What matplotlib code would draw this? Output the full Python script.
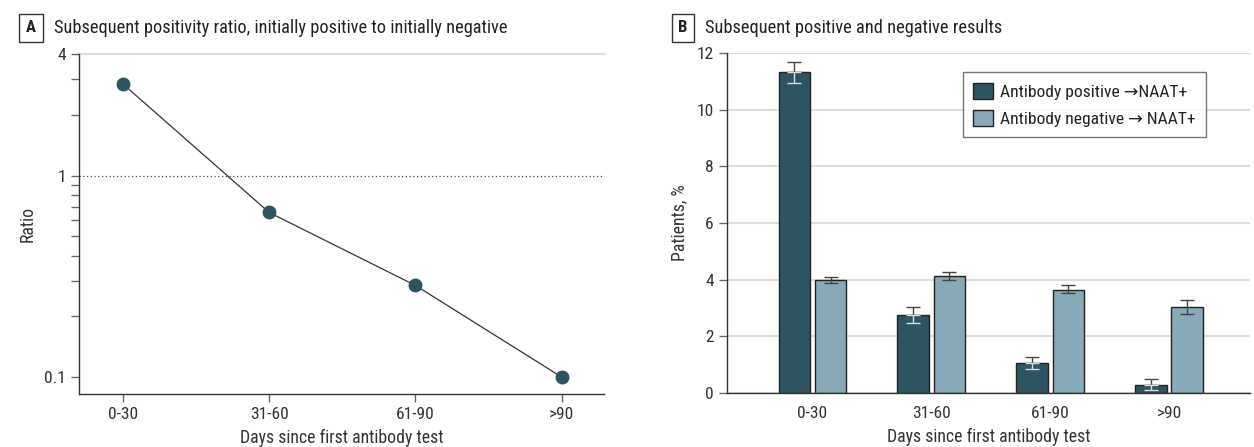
import matplotlib
matplotlib.use("Agg")
from matplotlib import pyplot as plt
from matplotlib import font_manager as fm
from matplotlib.ticker import FixedLocator, NullFormatter
import numpy as np

# look for a narrow sans, the original uses a condensed face
narrow = None
stretch = "normal"
names = {f.name for f in fm.fontManager.ttflist}
for n in ["Liberation Sans Narrow", "Roboto Condensed", "Open Sans Condensed",
          "DejaVu Sans Condensed", "Noto Sans Condensed"]:
    if n in names:
        narrow = n
        break
if narrow is None:
    for f in fm.fontManager.ttflist:
        if str(f.stretch) in ("condensed", "semi-condensed", "500", "semi-expanded") \
                or "ondensed" in f.fname or "Narrow" in f.fname:
            narrow = f.name
            stretch = "condensed"
            break
if narrow is None:
    narrow = "DejaVu Sans"
plt.rcParams['font.family'] = [narrow, 'DejaVu Sans']
plt.rcParams['font.stretch'] = stretch

categories = ["0-30", "31-60", "61-90", ">90"]

# panel A: ratio, initially positive to initially negative
ratio = [2.85, 0.656, 0.285, 0.1]

# panel B: patients, %
pos_pct = [11.32, 2.76, 1.06, 0.30]
pos_lo = [10.95, 2.47, 0.85, 0.12]
pos_hi = [11.70, 3.04, 1.27, 0.49]
neg_pct = [3.99, 4.13, 3.65, 3.04]
neg_lo = [3.88, 4.00, 3.52, 2.78]
neg_hi = [4.09, 4.26, 3.80, 3.30]

dark = "#2e5462"
light = "#87a9b8"
text_col = "#333333"
tick_col = "#666666"
grid_col = "#dddddd"
fs = 12.8

fig = plt.figure(figsize=(12.54, 4.47), dpi=100)


def style_axes(ax):
    for s in ["top", "right"]:
        ax.spines[s].set_visible(False)
    for s in ["left", "bottom"]:
        ax.spines[s].set_color("#333333")
        ax.spines[s].set_linewidth(1.0)
    ax.tick_params(which="both", color=tick_col, labelcolor=text_col,
                   labelsize=12.6, length=6, width=1)


def panel_label(x_box, x_text, letter, title):
    fig.text(x_box, 0.938, letter, fontsize=12, fontweight="bold",
             color="#222222", ha="center", va="center",
             bbox=dict(boxstyle="square,pad=0.4", fc="white",
                       ec="#333333", lw=1))
    fig.text(x_text, 0.938, title, fontsize=13.2, color="#222222",
             ha="left", va="center")


# ---- panel A ----
ax1 = fig.add_axes([0.063, 0.1186, 0.4187, 0.760])
x = np.arange(len(categories))
ax1.set_yscale("log")
ax1.set_ylim(0.0824, 4)
ax1.set_xlim(-0.30, 3.29)
ax1.axhline(4, color=grid_col, lw=1.5, zorder=0, clip_on=False)
ax1.axhline(1, color="#444444", lw=0.9, ls=(0, (1, 2)), zorder=1)
ax1.plot(x, ratio, color="#333333", lw=0.9, marker="o", markersize=9,
         markerfacecolor=dark, markeredgecolor=dark, zorder=3)
ax1.yaxis.set_major_locator(FixedLocator([0.1, 1, 4]))
ax1.set_yticklabels(["0.1", "1", "4"])
ax1.yaxis.set_minor_locator(FixedLocator([0.2, 0.3, 0.4, 0.5, 0.6, 0.7,
                                          0.8, 0.9, 2, 3]))
ax1.yaxis.set_minor_formatter(NullFormatter())
ax1.set_xticks(x)
ax1.set_xticklabels(categories)
style_axes(ax1)
ax1.set_ylabel("Ratio", fontsize=fs, color=text_col)
ax1.yaxis.set_label_coords(-0.08, 0.5)
ax1.set_xlabel("Days since first antibody test", fontsize=fs,
               color=text_col, labelpad=5)

# ---- panel B ----
ax2 = fig.add_axes([0.5797, 0.1208, 0.417, 0.7606])
w = 0.265
gap = 0.04
xp = x - (w + gap) / 2
xn = x + (w + gap) / 2
ax2.set_axisbelow(True)
ax2.yaxis.grid(True, color=grid_col, lw=1.5)
ax2.bar(xp, pos_pct, width=w, color=dark, edgecolor="#222222", lw=1,
        label="Antibody positive \u2192NAAT+", zorder=2)
ax2.bar(xn, neg_pct, width=w, color=light, edgecolor="#222222", lw=1,
        label="Antibody negative \u2192 NAAT+", zorder=2)

pos_pct = np.array(pos_pct)
neg_pct = np.array(neg_pct)
up = np.array(pos_hi) - pos_pct
down = pos_pct - np.array(pos_lo)
z = np.zeros(len(categories))
ax2.errorbar(xp, pos_pct, yerr=[z, up], fmt="none", ecolor="#444444",
             elinewidth=1, capsize=5, capthick=1, zorder=3)
ax2.errorbar(xp, pos_pct, yerr=[down, z], fmt="none", ecolor="#dddddd",
             elinewidth=1, capsize=5, capthick=1, zorder=3)
ax2.errorbar(xn, neg_pct, yerr=[neg_pct - np.array(neg_lo),
                                np.array(neg_hi) - neg_pct],
             fmt="none", ecolor="#444444", elinewidth=1, capsize=5,
             capthick=1, zorder=3)

ax2.set_ylim(0, 12)
ax2.set_xlim(-0.72, 3.68)
ax2.set_yticks(range(0, 13, 2))
ax2.set_xticks(x)
ax2.set_xticklabels(categories)
style_axes(ax2)
ax2.tick_params(axis="x", length=0, pad=9)
ax2.set_ylabel("Patients, %", fontsize=fs, color=text_col)
ax2.yaxis.set_label_coords(-0.073, 0.5)
ax2.set_xlabel("Days since first antibody test", fontsize=fs,
               color=text_col, labelpad=5)

leg = ax2.legend(loc="upper left", bbox_to_anchor=(0.451, 0.944),
                 borderaxespad=0, fancybox=False, fontsize=12.6,
                 frameon=True, handlelength=1.1, handleheight=1.1,
                 handletextpad=0.4, borderpad=0.6, labelspacing=0.55)
leg.get_frame().set_edgecolor("#555555")
leg.get_frame().set_linewidth(1)
for t in leg.get_texts():
    t.set_color("#222222")

panel_label(0.0247, 0.043, "A",
            "Subsequent positivity ratio, initially positive to initially negative")
panel_label(0.5447, 0.562, "B", "Subsequent positive and negative results")

fig.savefig("out.png", dpi=100)
